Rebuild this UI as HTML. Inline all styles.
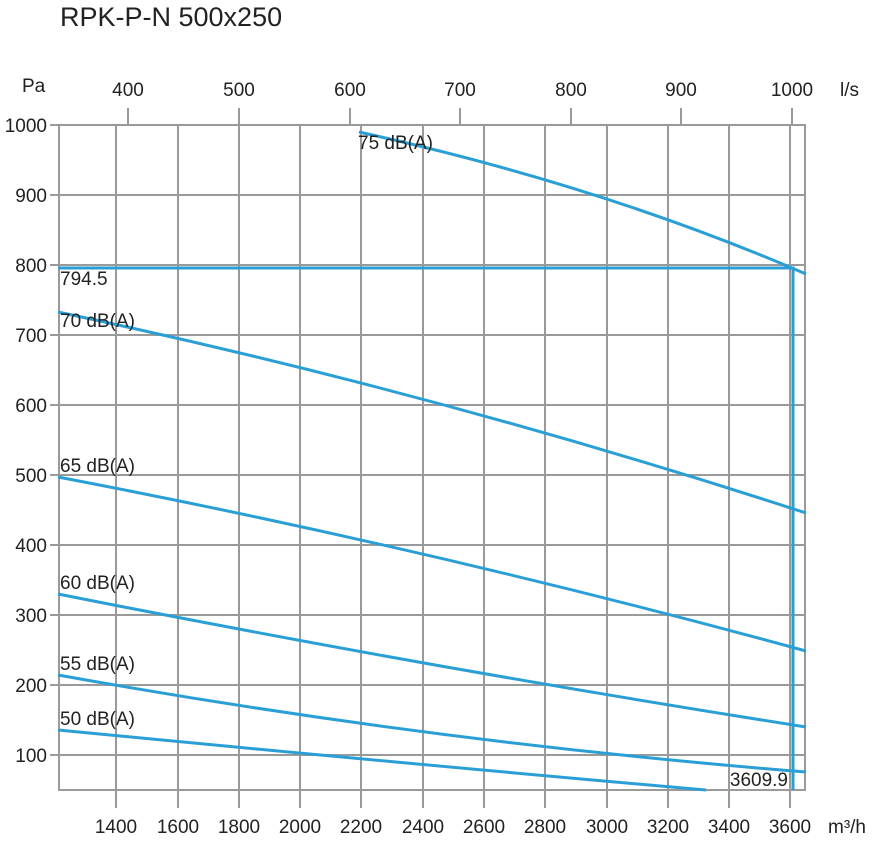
<!DOCTYPE html>
<html><head><style>body{margin:0;background:#fff}</style></head><body>
<svg width="874" height="836" xmlns="http://www.w3.org/2000/svg" font-family="Liberation Sans, sans-serif" fill="#222">
<text x="60" y="26" font-size="27">RPK-P-N 500x250</text>
<g stroke="#9a9a9a" stroke-width="2" fill="none">
<rect x="59" y="125" width="746" height="665"/>
<path d="M59 195H805M59 265H805M59 335H805M59 405H805M59 475H805M59 545H805M59 615H805M59 685H805M59 755H805"/>
<path d="M116 125V808M178 125V808M239 108V808M300 125V808M361 125V808M423 125V808M484 125V808M545 125V808M607 125V808M668 125V808M729 125V808M790 125V808"/>
<path d="M128 108V125M350 108V125M460 108V125M571 108V125M681 108V125M792 108V125"/>
<path d="M50 125H59M50 195H59M50 265H59M50 335H59M50 405H59M50 475H59M50 545H59M50 615H59M50 685H59M50 755H59"/>
</g>
<g font-size="19" text-anchor="end">
<text x="47" y="132">1000</text><text x="47" y="202">900</text><text x="47" y="272">800</text><text x="47" y="342">700</text><text x="47" y="412">600</text><text x="47" y="482">500</text><text x="47" y="552">400</text><text x="47" y="622">300</text><text x="47" y="692">200</text><text x="47" y="762">100</text>
</g>
<g font-size="19" text-anchor="middle">
<text x="128" y="96">400</text><text x="239" y="96">500</text><text x="350" y="96">600</text><text x="460" y="96">700</text><text x="571" y="96">800</text><text x="681" y="96">900</text><text x="792" y="96">1000</text>
<text x="116" y="833">1400</text><text x="178" y="833">1600</text><text x="239" y="833">1800</text><text x="300" y="833">2000</text><text x="361" y="833">2200</text><text x="423" y="833">2400</text><text x="484" y="833">2600</text><text x="545" y="833">2800</text><text x="607" y="833">3000</text><text x="668" y="833">3200</text><text x="729" y="833">3400</text><text x="790" y="833">3600</text>
</g>
<text x="22" y="92" font-size="19">Pa</text>
<text x="840" y="96" font-size="19">l/s</text>
<text x="828" y="833" font-size="19">m³/h</text>
<g stroke="#2a9fd6" stroke-width="3" fill="none">
<path d="M359 132Q600 185 806 274"/>
<path d="M58 312Q432 391 806 513"/>
<path d="M58 477Q430 548 806 651"/>
<path d="M58 594Q430 668 806 727"/>
<path d="M58 675Q430 742 806 772"/>
<path d="M58 730Q420 765 706 790"/>
<path d="M58 268H793V790"/>
</g>
<g font-size="19">
<text x="358" y="149">75 dB(A)</text>
<text x="60" y="327">70 dB(A)</text>
<text x="60" y="472">65 dB(A)</text>
<text x="60" y="589">60 dB(A)</text>
<text x="60" y="670">55 dB(A)</text>
<text x="60" y="725">50 dB(A)</text>
<text x="60" y="285">794.5</text>
<text x="788" y="786" text-anchor="end">3609.9</text>
</g>
</svg>
</body></html>
